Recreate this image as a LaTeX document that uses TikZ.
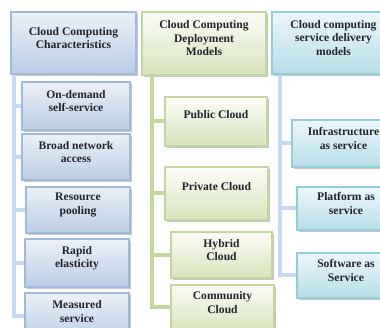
\documentclass[tikz,border=0pt]{standalone}
\usepackage{fontspec}
\setmainfont{Liberation Serif}
\usepackage{xcolor}
\usepackage{tikz}
\usetikzlibrary{shadows}
\definecolor{myblue}{RGB}{185,205,229}
\definecolor{mybluetop}{RGB}{236,241,248}
\definecolor{myblueline}{RGB}{160,186,217}
\definecolor{mygreen}{RGB}{215,228,189}
\definecolor{mygreentop}{RGB}{251,252,246}
\definecolor{mygreenline}{RGB}{195,214,155}
\definecolor{mycyan}{RGB}{183,222,232}
\definecolor{mycyantop}{RGB}{236,247,250}
\definecolor{mycyanline}{RGB}{146,205,220}
\definecolor{mylink}{RGB}{198,217,241}
\definecolor{mytext}{RGB}{35,35,45}
\begin{document}
\begin{tikzpicture}[x=1pt,y=-1pt,
every node/.style={align=center,text=mytext,font=\fontsize{11.6}{13.5}\selectfont\bfseries},
box/.style={rectangle,line width=1.3pt,drop shadow={shadow xshift=1.6pt,shadow yshift=-1.6pt,opacity=0.45}},
tx/.style={label={[yshift=5pt]center:{#1}}},
bluebox/.style={box,draw=myblueline,top color=mybluetop,bottom color=myblue},
greenbox/.style={box,draw=mygreenline,top color=mygreentop,bottom color=mygreen},
cyanbox/.style={box,draw=mycyanline,top color=mycyantop,bottom color=mycyan},
link/.style={line width=4pt}]
\clip (0,0) rectangle (380,328);
\fill[white] (0,0) rectangle (380,328);
% column 1
\node[bluebox,minimum width=125pt,minimum height=62pt,tx={Cloud Computing\\Characteristics}] (char) at (73.5,43) {};
\node[bluebox,minimum width=108pt,minimum height=48pt,tx={On-demand\\self-service}] (ondemand) at (76,106) {};
\node[bluebox,minimum width=108pt,minimum height=46pt,tx={Broad network\\access}] (broad) at (76,157) {};
\node[bluebox,minimum width=104pt,minimum height=46pt,tx={Resource\\pooling}] (pooling) at (78,210) {};
\node[bluebox,minimum width=104pt,minimum height=48pt,tx={Rapid\\elasticity}] (elastic) at (77,263) {};
\node[bluebox,minimum width=104pt,minimum height=47pt,tx={Measured\\service}] (measured) at (77,316.5) {};
% column 2
\node[greenbox,minimum width=124pt,minimum height=63pt,tx={Cloud Computing\\Deployment\\Models}] (deploy) at (204,43.5) {};
\node[greenbox,minimum width=102pt,minimum height=49pt,label={[yshift=7pt]center:Public Cloud}] (public) at (216,121.5) {};
\node[greenbox,minimum width=103pt,minimum height=53pt,label={[yshift=7pt]center:Private Cloud}] (private) at (216.5,193.5) {};
\node[greenbox,minimum width=101pt,minimum height=46pt,tx={Hybrid\\Cloud}] (hybrid) at (221.5,255) {};
\node[greenbox,minimum width=103pt,minimum height=45pt,tx={Community\\Cloud}] (community) at (222.5,307.5) {};
% column 3
\node[cyanbox,minimum width=123pt,minimum height=62pt,tx={Cloud computing\\service delivery\\models}] (delivery) at (333.5,43) {};
\node[cyanbox,minimum width=103pt,minimum height=47pt,tx={Infrastructure\\as service}] (iaas) at (343.5,143.5) {};
\node[cyanbox,minimum width=98pt,minimum height=43pt,tx={Platform as\\service}] (paas) at (346,208.5) {};
\node[cyanbox,minimum width=98pt,minimum height=45pt,tx={Software as\\Service}] (saas) at (346,275.5) {};
% connectors
\foreach \b in {ondemand,broad,pooling,elastic,measured}
  \draw[link,mylink] ([xshift=4pt]char.south west) |- (\b.west);
\foreach \b in {public,private,hybrid,community}
  \draw[link,mygreenline] ([xshift=11pt]deploy.south west) |- (\b.west);
\foreach \b in {iaas,paas,saas}
  \draw[link,mylink] ([xshift=9pt]delivery.south west) |- (\b.west);
\end{tikzpicture}
\end{document}
